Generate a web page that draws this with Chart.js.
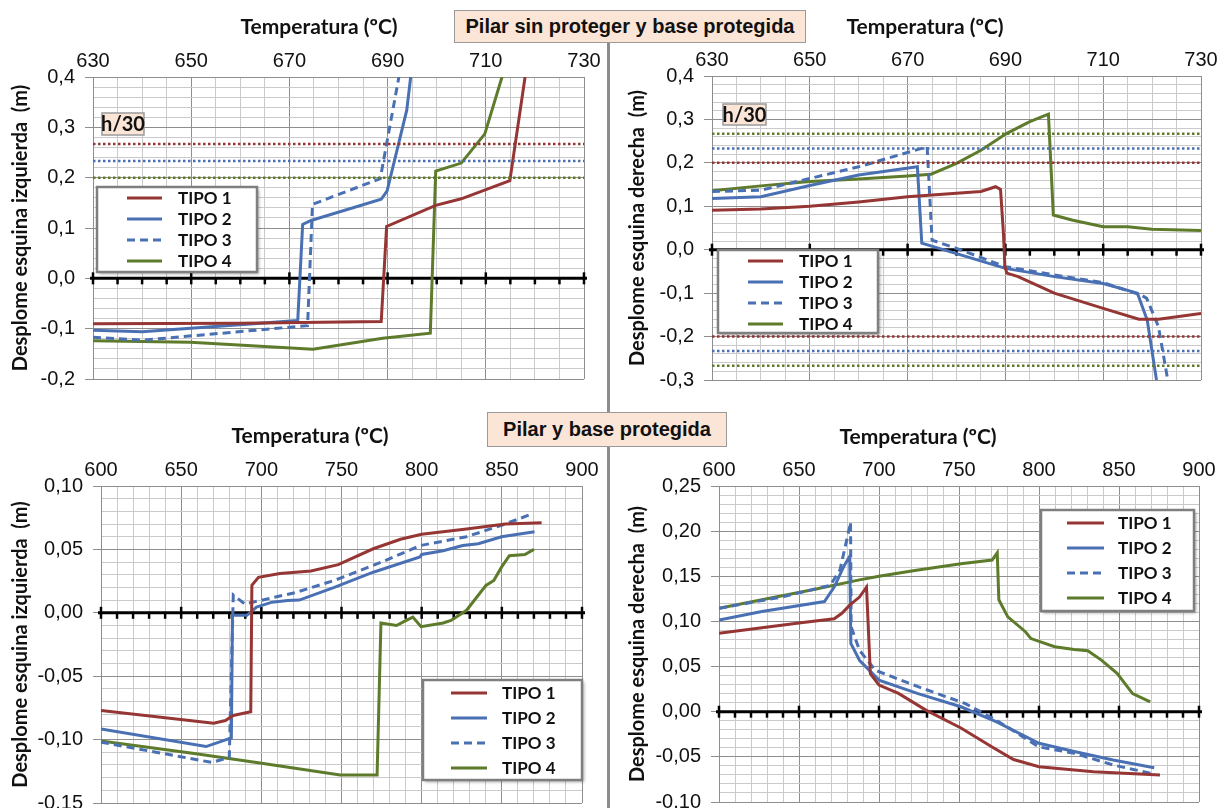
<!DOCTYPE html>
<html lang="es">
<head>
<meta charset="UTF-8" />
<title>Desplome esquinas</title>
<script src="https://cdn.jsdelivr.net/npm/chart.js@4.4.1/dist/chart.umd.min.js"></script>
<style>
  body { margin: 0; background: #fff; width: 1218px; height: 808px; position: relative; overflow: hidden; }
  canvas { position: absolute; }
  .divider { position: absolute; left: 607px; top: 40px; width: 3px; height: 768px; background: #8c8c8c; }
  .header {
    position: absolute; box-sizing: border-box; background: #fbe5d6; border: 1.5px solid #9a9a9a;
    font: bold 20px "Liberation Sans", Arial, sans-serif; color: #111;
    display: flex; align-items: center; justify-content: center;
  }
</style>
</head>
<body>
<div class="divider"></div>
<canvas id="p1" width="606" height="398" style="left:0;top:0"></canvas>
<canvas id="p2" width="608" height="398" style="left:610px;top:0"></canvas>
<canvas id="p3" width="606" height="408" style="left:0;top:400px"></canvas>
<canvas id="p4" width="608" height="408" style="left:610px;top:400px"></canvas>
<div class="header" style="left:454px;top:10px;width:352px;height:33px">Pilar sin proteger y base protegida</div>
<div class="header" style="left:487px;top:412px;width:240px;height:35px">Pilar y base protegida</div>
<script>
// ---- Pilar sin proteger, esquina izquierda
const p1Tipo1T = [630, 660, 688.7, 689.8, 699.8, 705, 714.9, 718];
const p1Tipo1V = [-0.090, -0.089, -0.086, 0.103, 0.145, 0.158, 0.194, 0.40];
const p1Tipo2T = [630, 640, 671.7, 672.7, 674.4, 688.7, 689.9, 693.9, 694.7];
const p1Tipo2V = [-0.103, -0.106, -0.084, 0.107, 0.115, 0.157, 0.174, 0.334, 0.40];
const p1Tipo3T = [630, 640, 673.7, 674.7, 688.5, 692.3];
const p1Tipo3V = [-0.117, -0.123, -0.094, 0.147, 0.198, 0.40];
const p1Tipo4T = [630, 649.8, 674.8, 689, 698.7, 699.8, 705, 709.8, 713.3];
const p1Tipo4V = [-0.124, -0.127, -0.141, -0.119, -0.109, 0.213, 0.229, 0.287, 0.40];
const p1Limits = [0.267, 0.233, 0.200];

// ---- Pilar sin proteger, esquina derecha
const p2Tipo1T = [630, 640, 650, 660, 670, 680, 685, 688, 689, 689.6, 689.9, 690.3, 692.6, 700, 710, 717.3, 721.3, 730];
const p2Tipo1V = [0.091, 0.094, 0.100, 0.110, 0.122, 0.130, 0.134, 0.145, 0.139, 0.038, -0.039, -0.054, -0.062, -0.100, -0.135, -0.160, -0.160, -0.147];
const p2Tipo2T = [630, 640, 650, 660, 672, 672.9, 690, 700, 710, 717, 719, 720.9];
const p2Tipo2V = [0.118, 0.122, 0.148, 0.172, 0.191, 0.015, -0.043, -0.062, -0.078, -0.100, -0.162, -0.30];
const p2Tipo3T = [630, 640, 650, 660, 674, 675, 680, 690, 700, 710, 717.7, 718.9, 721.3, 723.2];
const p2Tipo3V = [0.134, 0.137, 0.164, 0.191, 0.237, 0.022, 0.003, -0.039, -0.058, -0.076, -0.104, -0.112, -0.177, -0.30];
const p2Tipo4T = [630, 640, 650, 660, 670, 674.8, 680, 685, 690.3, 695, 698.8, 699.8, 703.8, 710, 715, 720, 730];
const p2Tipo4V = [0.136, 0.147, 0.157, 0.163, 0.170, 0.174, 0.199, 0.229, 0.268, 0.295, 0.312, 0.080, 0.068, 0.053, 0.053, 0.047, 0.044];
const p2Limits = [0.267, 0.233, 0.200, -0.200, -0.233, -0.267];

// ---- Pilar y base protegida, esquina izquierda
const p3Tipo1T = [600, 670.3, 677.6, 682.5, 693.4, 694.1, 698.2, 711.6, 731, 748, 769.8, 786.8, 800, 828, 852.2, 874.8];
const p3Tipo1V = [-0.077, -0.087, -0.085, -0.081, -0.078, 0.0216, 0.028, 0.031, 0.033, 0.038, 0.0505, 0.058, 0.062, 0.066, 0.070, 0.071];
const p3Tipo2T = [600, 665.5, 681.3, 682, 691, 697, 706.7, 716.4, 723.7, 745.5, 769.8, 798.9, 800, 813.4, 825.6, 835.3, 849.8, 870.4];
const p3Tipo2V = [-0.0916, -0.1055, -0.0987, -0.002, -0.002, 0.0045, 0.0084, 0.0097, 0.010, 0.020, 0.032, 0.044, 0.046, 0.049, 0.053, 0.0545, 0.060, 0.064];
const p3Tipo3T = [600, 669.1, 680, 682.5, 689.7, 699.4, 721.3, 745.5, 777, 798.9, 828, 849.8, 866.8];
const p3Tipo3V = [-0.102, -0.118, -0.114, 0.014, 0.007, 0.0097, 0.016, 0.0255, 0.041, 0.053, 0.060, 0.069, 0.077];
const p3Tipo4T = [600, 658.2, 697, 749.2, 772.2, 774.6, 784.3, 790.4, 794.5, 799.6, 813.4, 818.3, 828, 840.1, 845, 849.8, 854.7, 864.4, 870];
const p3Tipo4V = [-0.101, -0.111, -0.118, -0.128, -0.128, -0.008, -0.010, -0.006, -0.0034, -0.011, -0.008, -0.006, 0.002, 0.0216, 0.0255, 0.036, 0.045, 0.046, 0.050];

// ---- Pilar y base protegida, esquina derecha
const p4Tipo1T = [600, 626.8, 651.2, 672, 676.8, 681.7, 687.8, 692.2, 694.6, 700, 712.2, 729.3, 751.2, 770.7, 784.1, 800, 834.1, 875.6];
const p4Tipo1V = [0.0868, 0.093, 0.0986, 0.103, 0.109, 0.118, 0.127, 0.138, 0.042, 0.0295, 0.0203, 0.0018, -0.018, -0.039, -0.053, -0.061, -0.0665, -0.070];
const p4Tipo2T = [600, 626.8, 665.9, 672, 678, 681.7, 682.4, 687.8, 700, 724.4, 751.2, 773.2, 800, 822, 846.3, 872];
const p4Tipo2V = [0.1016, 0.111, 0.122, 0.138, 0.161, 0.172, 0.0757, 0.057, 0.035, 0.020, 0.0055, -0.011, -0.035, -0.044, -0.0535, -0.062];
const p4Tipo3T = [600, 639, 669.5, 675.6, 681.7, 682.2, 682.6, 687.8, 697.6, 724.4, 753.7, 773.2, 800, 822, 846.3, 872];
const p4Tipo3V = [0.1145, 0.127, 0.140, 0.157, 0.205, 0.210, 0.094, 0.068, 0.046, 0.0277, 0.0092, -0.0092, -0.039, -0.046, -0.059, -0.069];
const p4Tipo4T = [600, 626.8, 658.5, 687.8, 700, 724.4, 751.2, 770.7, 773.9, 774.9, 780.5, 791.5, 795, 809.8, 822, 830.5, 839, 848.8, 858.5, 869.5];
const p4Tipo4V = [0.1145, 0.124, 0.135, 0.146, 0.150, 0.157, 0.164, 0.168, 0.176, 0.124, 0.105, 0.0886, 0.081, 0.072, 0.069, 0.0676, 0.0572, 0.0425, 0.020, 0.011];

const red = '#963634';
const blue = '#4a70b4';
const green = '#5d7b2b';
const tickFont = '"Liberation Sans Narrow", "Arial Narrow", "Liberation Sans", sans-serif';
const boldFont = 'Lato, "Open Sans", sans-serif';

const pts = (ts, vs) => ts.map((t, i) => ({ x: t, y: vs[i] }));

function tipo(label, ts, vs, color, dashed) {
  return {
    label, data: pts(ts, vs), borderColor: color, borderWidth: 3,
    borderDash: dashed ? [8, 5] : [], pointRadius: 0, tension: 0, fill: false
  };
}

function limit(v, color, xMin, xMax) {
  return {
    label: 'h/30', data: [{ x: xMin, y: v }, { x: xMax, y: v }], borderColor: color,
    borderWidth: 2.5, borderDash: [2.5, 2.5], pointRadius: 0, fill: false
  };
}

const panelDecor = {
  id: 'panelDecor',
  beforeDatasetsDraw(chart, args, o) {
    const { ctx } = chart;
    const x = chart.scales.x, y = chart.scales.y;
    const y0 = y.getPixelForValue(0);
    ctx.save();
    ctx.strokeStyle = '#000';
    ctx.lineWidth = 3;
    ctx.beginPath();
    ctx.moveTo(x.left - 3, y0);
    ctx.lineTo(x.right + 3, y0);
    ctx.stroke();
    ctx.lineWidth = 2.5;
    for (let v = x.min; v <= x.max + 1e-6; v += o.xMinor) {
      const px = x.getPixelForValue(v);
      const k = (v - x.min) / o.xMajor;
      const major = Math.abs(k - Math.round(k)) < 1e-6;
      ctx.beginPath();
      ctx.moveTo(px, major ? y0 - 6 : y0);
      ctx.lineTo(px, y0 + 6);
      ctx.stroke();
    }
    ctx.restore();
  },
  afterDatasetsDraw(chart, args, o) {
    const { ctx } = chart;
    ctx.save();
    if (o.tag) {
      const t = o.tag;
      ctx.fillStyle = '#fbe5d6';
      ctx.fillRect(t.left, t.top, t.width, t.height);
      ctx.strokeStyle = '#9a9a9a';
      ctx.lineWidth = 1.5;
      ctx.strokeRect(t.left, t.top, t.width, t.height);
      ctx.fillStyle = '#111';
      ctx.font = 'bold 20px ' + boldFont;
      ctx.textAlign = 'center';
      ctx.textBaseline = 'middle';
      ctx.fillText(t.text, t.left + t.width / 2, t.top + t.height / 2 + 1);
    }
    const L = o.legend;
    ctx.shadowColor = 'rgba(0,0,0,0.35)';
    ctx.shadowOffsetX = 2;
    ctx.shadowOffsetY = 2;
    ctx.shadowBlur = 3;
    ctx.fillStyle = '#fff';
    ctx.fillRect(L.left, L.top, L.width, L.height);
    ctx.shadowColor = 'transparent';
    ctx.strokeStyle = '#7f7f7f';
    ctx.lineWidth = 2.5;
    ctx.strokeRect(L.left, L.top, L.width, L.height);
    ctx.font = 'bold 17px ' + boldFont;
    ctx.textAlign = 'left';
    ctx.textBaseline = 'middle';
    chart.data.datasets.filter(d => d.label.startsWith('TIPO')).forEach((d, i) => {
      const yy = L.top + L.first + i * L.gap;
      ctx.strokeStyle = d.borderColor;
      ctx.lineWidth = 3;
      ctx.setLineDash(d.borderDash);
      ctx.beginPath();
      ctx.moveTo(L.left + L.line0, yy);
      ctx.lineTo(L.left + L.line1, yy);
      ctx.stroke();
      ctx.setLineDash([]);
      ctx.fillStyle = '#111';
      ctx.fillText(d.label, L.left + L.text, yy + 1);
    });
    ctx.restore();
  },
  afterDraw(chart, args, o) {
    const { ctx } = chart;
    ctx.save();
    ctx.font = 'bold 21px ' + boldFont;
    ctx.fillStyle = '#111';
    ctx.textAlign = 'center';
    ctx.textBaseline = 'middle';
    ctx.fillText('Temperatura (ºC)', o.captionX, o.captionY);
    ctx.restore();
  }
};
Chart.register(panelDecor);

function isOn(v, base, step) {
  const k = (v - base) / step;
  return Math.abs(k - Math.round(k)) < 1e-6;
}

function makePanel(id, p) {
  const canvas = document.getElementById(id);
  const tipos = [
    tipo('TIPO 1', p.series[0][0], p.series[0][1], red, false),
    tipo('TIPO 2', p.series[1][0], p.series[1][1], blue, false),
    tipo('TIPO 3', p.series[2][0], p.series[2][1], blue, true),
    tipo('TIPO 4', p.series[3][0], p.series[3][1], green, false)
  ];
  const limits = (p.limits || []).map((v, i) => limit(v, p.limitColors[i], p.x[0], p.x[1]));
  new Chart(canvas, {
    type: 'line',
    data: { datasets: limits.concat(tipos) },
    options: {
      responsive: false,
      animation: false,
      layout: { padding: { left: 0, top: 0, right: canvas.width - p.area.right, bottom: canvas.height - p.area.bottom } },
      plugins: {
        legend: { display: false },
        tooltip: { enabled: false },
        panelDecor: {
          xMinor: p.x[2], xMajor: p.x[3], legend: p.legend, tag: p.tag,
          captionX: p.caption[0], captionY: p.caption[1]
        }
      },
      scales: {
        x: {
          type: 'linear', position: 'top', min: p.x[0], max: p.x[1],
          afterFit: s => { s.height = p.area.top; s.paddingLeft = 0; s.paddingRight = 0; },
          ticks: {
            stepSize: p.x[2], autoSkip: false, maxRotation: 0, padding: 4,
            color: '#111', font: { family: tickFont, size: 20 },
            callback: v => isOn(v, p.x[0], p.x[3]) ? String(v) : ''
          },
          grid: {
            color: c => isOn(c.tick.value, p.x[0], p.x[3]) ? '#8e8e8e' : '#cacaca',
            tickLength: 0, lineWidth: 1
          },
          border: { display: true, color: '#8e8e8e' }
        },
        y: {
          type: 'linear', min: p.y[0], max: p.y[1],
          afterFit: s => { s.width = p.area.left; s.paddingTop = 0; s.paddingBottom = 0; },
          title: {
            display: true, text: p.yTitle, color: '#111',
            font: { family: boldFont, size: 20, weight: 'bold' }, padding: { top: p.yTitlePad, bottom: 0 }
          },
          ticks: {
            stepSize: p.y[2], autoSkip: false, padding: 10, color: '#111',
            font: { family: tickFont, size: 20 },
            callback: v => isOn(v, p.y[0], p.y[3]) ? v.toFixed(p.dec).replace('.', ',') : ''
          },
          grid: {
            color: c => isOn(c.tick.value, p.y[0], p.y[3]) ? '#8e8e8e' : '#cacaca',
            tickColor: c => isOn(c.tick.value, p.y[0], p.y[3]) ? '#8e8e8e' : 'rgba(0,0,0,0)',
            tickLength: 8, lineWidth: 1
          },
          border: { display: true, color: '#8e8e8e' }
        }
      }
    }
  });
}

makePanel('p1', {
  series: [[p1Tipo1T, p1Tipo1V], [p1Tipo2T, p1Tipo2V], [p1Tipo3T, p1Tipo3V], [p1Tipo4T, p1Tipo4V]],
  limits: p1Limits, limitColors: [red, blue, green],
  x: [630, 730, 5, 20], y: [-0.2, 0.4, 0.02, 0.1], dec: 1,
  area: { left: 93, top: 77, right: 584, bottom: 379 },
  yTitle: 'Desplome esquina izquierda  (m)', yTitlePad: 9,
  caption: [319, 27],
  legend: { left: 97, top: 187, width: 160, height: 85, first: 11, gap: 21, line0: 30, line1: 65, text: 81 },
  tag: { text: 'h/30', left: 102, top: 113, width: 42, height: 22 }
});

makePanel('p2', {
  series: [[p2Tipo1T, p2Tipo1V], [p2Tipo2T, p2Tipo2V], [p2Tipo3T, p2Tipo3V], [p2Tipo4T, p2Tipo4V]],
  limits: p2Limits, limitColors: [green, blue, red, red, blue, green],
  x: [630, 730, 5, 20], y: [-0.3, 0.4, 0.02, 0.1], dec: 1,
  area: { left: 102, top: 76, right: 591, bottom: 380 },
  yTitle: 'Desplome esquina derecha  (m)', yTitlePad: 16,
  caption: [315, 27],
  legend: { left: 108, top: 250, width: 160, height: 83, first: 11, gap: 21, line0: 30, line1: 65, text: 81 },
  tag: { text: 'h/30', left: 113, top: 104, width: 43, height: 21 }
});

makePanel('p3', {
  series: [[p3Tipo1T, p3Tipo1V], [p3Tipo2T, p3Tipo2V], [p3Tipo3T, p3Tipo3V], [p3Tipo4T, p3Tipo4V]],
  x: [600, 900, 10, 50], y: [-0.15, 0.10, 0.01, 0.05], dec: 2,
  area: { left: 101, top: 86, right: 582, bottom: 403 },
  yTitle: 'Desplome esquina izquierda  (m)', yTitlePad: 9,
  caption: [310, 36],
  legend: { left: 423, top: 280, width: 159, height: 100, first: 13, gap: 25, line0: 28, line1: 64, text: 79 }
});

makePanel('p4', {
  series: [[p4Tipo1T, p4Tipo1V], [p4Tipo2T, p4Tipo2V], [p4Tipo3T, p4Tipo3V], [p4Tipo4T, p4Tipo4V]],
  x: [600, 900, 10, 50], y: [-0.10, 0.25, 0.01, 0.05], dec: 2,
  area: { left: 109, top: 86, right: 589, bottom: 402 },
  yTitle: 'Desplome esquina derecha  (m)', yTitlePad: 16,
  caption: [308, 37],
  legend: { left: 431, top: 110, width: 153, height: 101, first: 13, gap: 25, line0: 26, line1: 63, text: 77 }
});
</script>
</body>
</html>
